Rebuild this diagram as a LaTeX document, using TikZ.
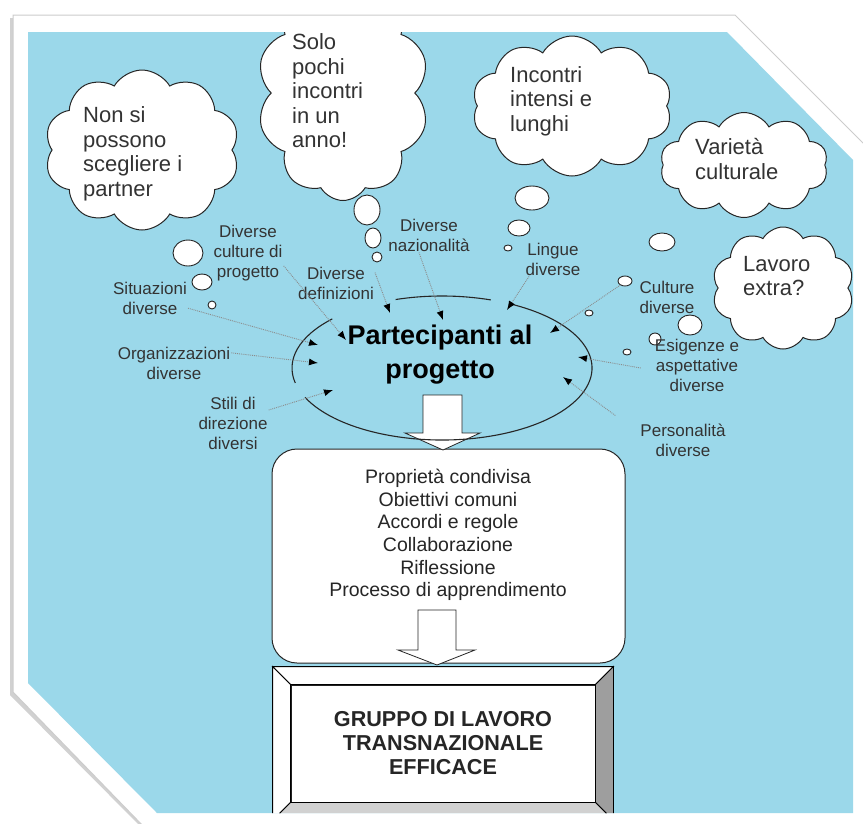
\documentclass[tikz,border=0pt]{standalone}
\usepackage{fontspec}
\setmainfont{Liberation Sans}
\usetikzlibrary{positioning,shapes.symbols,arrows.meta}

\definecolor{skyblue}{RGB}{155,216,234}

\begin{document}
\begin{tikzpicture}[x=1pt, y=-1pt,
        thought/.style = {cloud, cloud puffs=10, cloud puff arc=120, cloud ignores aspect, draw=black!85, fill=white, line width=1pt, inner sep=0pt},
        thoughttext/.style = {anchor=west, align=left, inner sep=0pt, text=black!80, font=\fontsize{22}{24.5}\selectfont},
        bubble/.style = {draw=black!85, fill=white, line width=0.9pt},
        tag/.style = {align=center, inner sep=1pt, text=black!80, font=\fontsize{17}{20}\selectfont},
        link/.style = {draw=black!45, densely dotted, line width=0.9pt, -{Latex[length=9pt, width=7pt, color=black]}}, % gray dots, black tips
        oval/.style = {draw=black!85, line width=1.1pt},
        bigarrow/.style = {draw=black!85, fill=white, line width=0.8pt}
    ]
        % Frame
        \useasboundingbox (0,0) rectangle (863,823);
        \fill[white] (0,0) rectangle (863,823);
        \fill[black!18] (10,18) -- (732,18) -- (870,156) -- (870,830) -- (144,830) -- (10,695) -- cycle;
        \draw[fill=white, draw=black!20, line width=1pt] (13,15) -- (735,15) -- (870,150) -- (870,830) -- (147,830) -- (13,692) -- cycle;
        \fill[skyblue] (28,32) -- (727,32) -- (853,160) -- (853,813) -- (157,813) -- (28,683) -- cycle;

        \begin{scope}
        \clip (28,32) -- (727,32) -- (853,160) -- (853,813) -- (157,813) -- (28,683) -- cycle;

        % Clouds
        \node[thought, minimum width=195pt, minimum height=160pt] (cpartner) at (142,150) {};
        \node[thoughttext] (tpartner) at (83,154) {Non si\\possono\\scegliere i\\partner};
        \node[thought, minimum width=172pt, minimum height=215pt] (canno) at (343,93) {};
        \node[thoughttext] (tanno) at (292,91) {Solo\\pochi\\incontri\\in un\\anno!};
        \node[thought, minimum width=200pt, minimum height=140pt] (clunghi) at (572,106) {};
        \node[thoughttext] (tlunghi) at (510,101) {Incontri\\intensi e\\lunghi};
        \node[thought, minimum width=168pt, minimum height=105pt] (cvarieta) at (744,165) {};
        \node[thoughttext] (tvarieta) at (695,159) {Varietà\\culturale};
        \node[thought, minimum width=142pt, minimum height=122pt] (cextra) at (783,288) {};
        \node[thoughttext] (textra) at (743,276) {Lavoro\\extra?};

        % Bubbles
        \foreach \x/\y/\rx/\ry in {188/253/15/13, 202/282/10/8, 212/305/4/4,
                                   367/210/13/15, 373/238/8/10, 377/257/5/5,
                                   532/198/17/12, 519/228/11/8, 508/248/4/3,
                                   662/242/13/9, 625/281/7/5, 589/313/4/3,
                                   690/325/12/10, 655/339/6/6, 627/352/4/3}
            \draw[bubble] (\x,\y) ellipse [x radius=\rx, y radius=\ry];

        % Boxes
        \node[draw=black!85, fill=white, line width=1pt, rounded corners=25pt, minimum width=353pt, minimum height=214pt] (props) at (448.5,556) {};
        \node[align=center, text=black!85, font=\fontsize{19.5}{22.6}\selectfont] (proptext) at (448,535)
            {Proprietà condivisa\\Obiettivi comuni\\Accordi e regole\\Collaborazione\\Riflessione\\Processo di apprendimento};

        \node[draw=black!85, fill=white, line width=0.8pt, minimum width=304pt, minimum height=117pt, align=center, text=black!85,
              font=\bfseries\fontsize{21.6}{24}\selectfont] (goal) at (443,743.5) {GRUPPO DI LAVORO\\TRANSNAZIONALE\\EFFICACE};
        \coordinate (gnw) at ([shift={(-18,-18)}]goal.north west);
        \coordinate (gne) at ([shift={(18,-18)}]goal.north east);
        \coordinate (gse) at ([shift={(18,18)}]goal.south east);
        \coordinate (gsw) at ([shift={(-18,18)}]goal.south west);
        \filldraw[fill=white, line width=0.8pt] (gnw) -- (gne) -- (goal.north east) -- (goal.north west) -- cycle;
        \filldraw[fill=white, line width=0.8pt] (gnw) -- (goal.north west) -- (goal.south west) -- (gsw) -- cycle;
        \filldraw[fill=black!38, line width=0.8pt] (gne) -- (gse) -- (goal.south east) -- (goal.north east) -- cycle;
        \filldraw[fill=black!18, line width=0.8pt] (gsw) -- (goal.south west) -- (goal.south east) -- (gse) -- cycle;

        % Block arrows
        \draw[bigarrow] (423,395) -- (462,395) -- (462,433) -- (480,433) -- (443,450) -- (405,433) -- (423,433) -- cycle;
        \draw[bigarrow] (418,610) -- (456,610) -- (456,650) -- (475,650) -- (437,665) -- (398,650) -- (418,650) -- cycle;

        % Participants
        \coordinate (oc) at (442,368);
        \draw[oval] ([shift={(-137:150 and 72)}]oc) arc[start angle=-137, end angle=-192, x radius=150, y radius=72];
        \draw[oval] ([shift={(-71:150 and 72)}]oc) arc[start angle=-71, end angle=-108, x radius=150, y radius=72];
        \draw[oval] ([shift={(-204:150 and 72)}]oc) arc[start angle=-204, end angle=-423, x radius=150, y radius=72];
        \node[align=center, font=\bfseries\fontsize{27}{34}\selectfont] (part) at (440,355) {Partecipanti al\\progetto};

        % Labels
        \node[tag] (lcult) at (248,253) {Diverse\\culture di\\progetto};
        \node[tag] (lsit) at (150,298) {Situazioni\\diverse};
        \node[tag] (lorg) at (174,363) {Organizzazioni\\diverse};
        \node[tag] (lstili) at (233,423) {Stili di\\direzione\\diversi};
        \node[tag] (ldef) at (336,283) {Diverse\\definizioni};
        \node[tag] (lnaz) at (429,235) {Diverse\\nazionalità};
        \node[tag] (lling) at (553,259) {Lingue\\diverse};
        \node[tag] (lcul2) at (667,297) {Culture\\diverse};
        \node[tag] (lesig) at (697,365) {Esigenze e\\aspettative\\diverse};
        \node[tag] (lpers) at (683,440) {Personalità\\diverse};

        % Arrow tips on the oval
        \coordinate (tcult) at (346,340);
        \coordinate (tsit) at (318,345);
        \coordinate (torg) at (318,363);
        \coordinate (tstili) at (333,390);
        \coordinate (tdef) at (390,313);
        \coordinate (tnaz) at (443,320);
        \coordinate (tling) at (507,310);
        \coordinate (tcul2) at (550,333);
        \coordinate (tesig) at (578,357);
        \coordinate (tpers) at (563,377);

        % Lines
        \draw[link] (lcult.-20) -- (tcult);
        \draw[link] (lsit.-15) -- (tsit);
        \draw[link] (lorg.10) -- (torg);
        \draw[link] (lstili.20) -- (tstili);
        \draw[link] (ldef.15) -- (tdef);
        \draw[link] (lnaz.-120) -- (tnaz);
        \draw[link] (lling.-144) -- (tling);
        \draw[link] ([shift={(-18,-12)}]lcul2.west) -- (tcul2);
        \draw[link] ([shift={(-13,3)}]lesig.west) -- (tesig);
        \draw[link] ([shift={(-24,-7)}]lpers.north west) -- (tpers);
        \end{scope}
    \end{tikzpicture}
\end{document}
